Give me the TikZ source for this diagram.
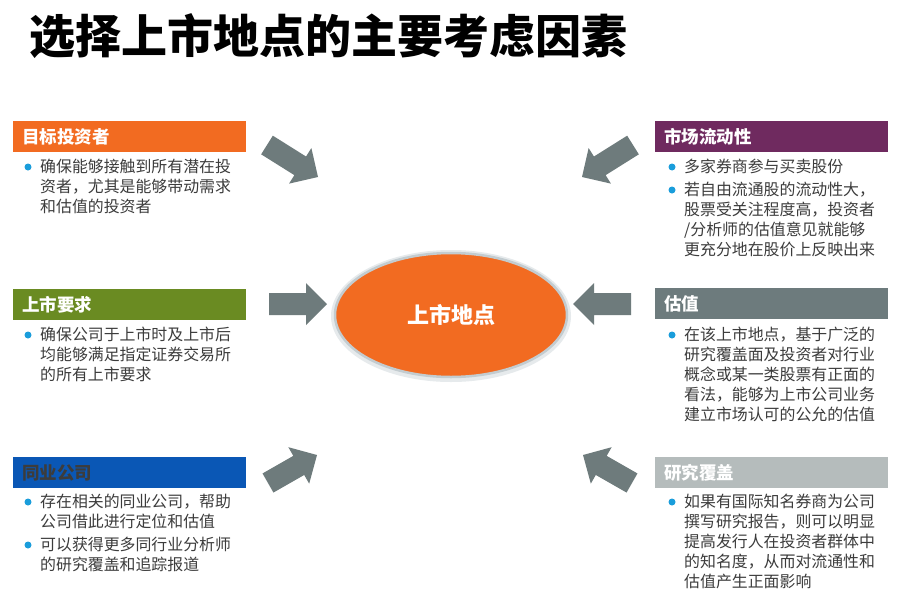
\documentclass[tikz,border=0pt]{standalone}
\usepackage{fontspec}
\setmainfont{Noto Sans CJK SC}
\usetikzlibrary{calc,shapes.geometric}
\definecolor{cOrange}{HTML}{F26B21}
\definecolor{cPurple}{HTML}{6F2A5F}
\definecolor{cGreen}{HTML}{6A8B22}
\definecolor{cGray}{HTML}{6D7B7D}
\definecolor{cBlue}{HTML}{0A57B5}
\definecolor{cLight}{HTML}{B5BCBC}
\definecolor{cArrow}{HTML}{6E7B7C}
\definecolor{cDot}{HTML}{1A9DDB}
\definecolor{cText}{HTML}{3C3C3C}
\definecolor{cRing}{HTML}{C3CCD0}
\definecolor{cRingOut}{HTML}{E6EAEC}
\newcommand\blkarrow[2]{%
  \path ($(#2)!21pt!(#1)$) coordinate (nk);
  \fill[cArrow] ($(#1)!11pt!90:(#2)$) -- ($(nk)!11pt!90:(#2)$) -- ($(nk)!21pt!90:(#2)$) -- (#2)
    -- ($(nk)!21pt!-90:(#2)$) -- ($(nk)!11pt!-90:(#2)$) -- ($(#1)!11pt!-90:(#2)$) -- cycle;}
\tikzset{
  hdr/.style={anchor=north west, text width=215pt, inner xsep=9pt, inner ysep=0pt,
    minimum height=31pt, align=left, text=white,
    font=\bfseries\fontsize{17.5}{20}\selectfont},
  body/.style={anchor=north west, inner sep=0pt, align=left, text=cText,
    font=\fontsize{15.9}{20}\selectfont},
  dot/.style={circle, fill=cDot, inner sep=0pt, minimum size=7pt}
}
\begin{document}
\begin{tikzpicture}[x=1pt,y=-1pt]
\useasboundingbox (0,0) rectangle (908,608);
\fill[white] (0,0) rectangle (908,608);
% title
\node[anchor=west, inner sep=0pt, font=\bfseries\fontsize{46}{50}\selectfont, text=black] (title) at (29,36) {选择上市地点的主要考虑因素};
% center
\fill[cRingOut] (451,316) ellipse [x radius=120pt, y radius=66pt];
\node[ellipse, minimum width=232pt, minimum height=124pt, fill=cOrange, draw=cRing, line width=2.5pt,
  text=white, font=\bfseries\fontsize{22}{26}\selectfont] (c) at (451,315) {上市地点};
% headers
\node[hdr, fill=cOrange] (h1) at (13,121) {目标投资者};
\node[hdr, fill=cGreen] (h2) at (13,289) {上市要求};
\node[hdr, fill=cBlue, text=cText] (h3) at (13,457) {同业公司};
\node[hdr, fill=cPurple] (h4) at (655,121) {市场流动性};
\node[hdr, fill=cGray] (h5) at (655,288) {估值};
\node[hdr, fill=cLight] (h6) at (655,457) {研究覆盖};
% bodies
\node[body] (t1) at (40,159) {确保能够接触到所有潜在投\\资者，尤其是能够带动需求\\和估值的投资者};
\node[body] (t2) at (40,327) {确保公司于上市时及上市后\\均能够满足指定证券交易所\\的所有上市要求};
\node[body] (t3a) at (40,494) {存在相关的同业公司，帮助\\公司借此进行定位和估值};
\node[body] (t3b) at (40,537) {可以获得更多同行业分析师\\的研究覆盖和追踪报道};
\node[body] (t4a) at (684,159) {多家券商参与买卖股份};
\node[body] (t4b) at (684,182) {若自由流通股的流动性大，\\股票受关注程度高，投资者\\/分析师的估值意见就能够\\更充分地在股价上反映出来};
\node[body] (t5) at (684,327) {在该上市地点，基于广泛的\\研究覆盖面及投资者对行业\\概念或某一类股票有正面的\\看法，能够为上市公司业务\\建立市场认可的公允的估值};
\node[body] (t6) at (684,494) {如果有国际知名券商为公司\\撰写研究报告，则可以明显\\提高发行人在投资者群体中\\的知名度，从而对流通性和\\估值产生正面影响};
% bullets
\foreach \t in {t1,t2,t3a,t3b,t4a,t4b,t5,t6}
  \node[dot] (d\t) at ($(\t.north west)+(-12,8)$) {};
% arrows
\coordinate (a1t) at (267,145); \coordinate (a1h) at (318,177);
\coordinate (a2t) at (269,304); \coordinate (a2h) at (327,304);
\coordinate (a3t) at (268,483); \coordinate (a3h) at (317,455);
\coordinate (a4t) at (633,145); \coordinate (a4h) at (582,177);
\coordinate (a5t) at (631,304); \coordinate (a5h) at (573,304);
\coordinate (a6t) at (632,483); \coordinate (a6h) at (583,455);
\blkarrow{a1t}{a1h}
\blkarrow{a2t}{a2h}
\blkarrow{a3t}{a3h}
\blkarrow{a4t}{a4h}
\blkarrow{a5t}{a5h}
\blkarrow{a6t}{a6h}
\end{tikzpicture}
\end{document}
